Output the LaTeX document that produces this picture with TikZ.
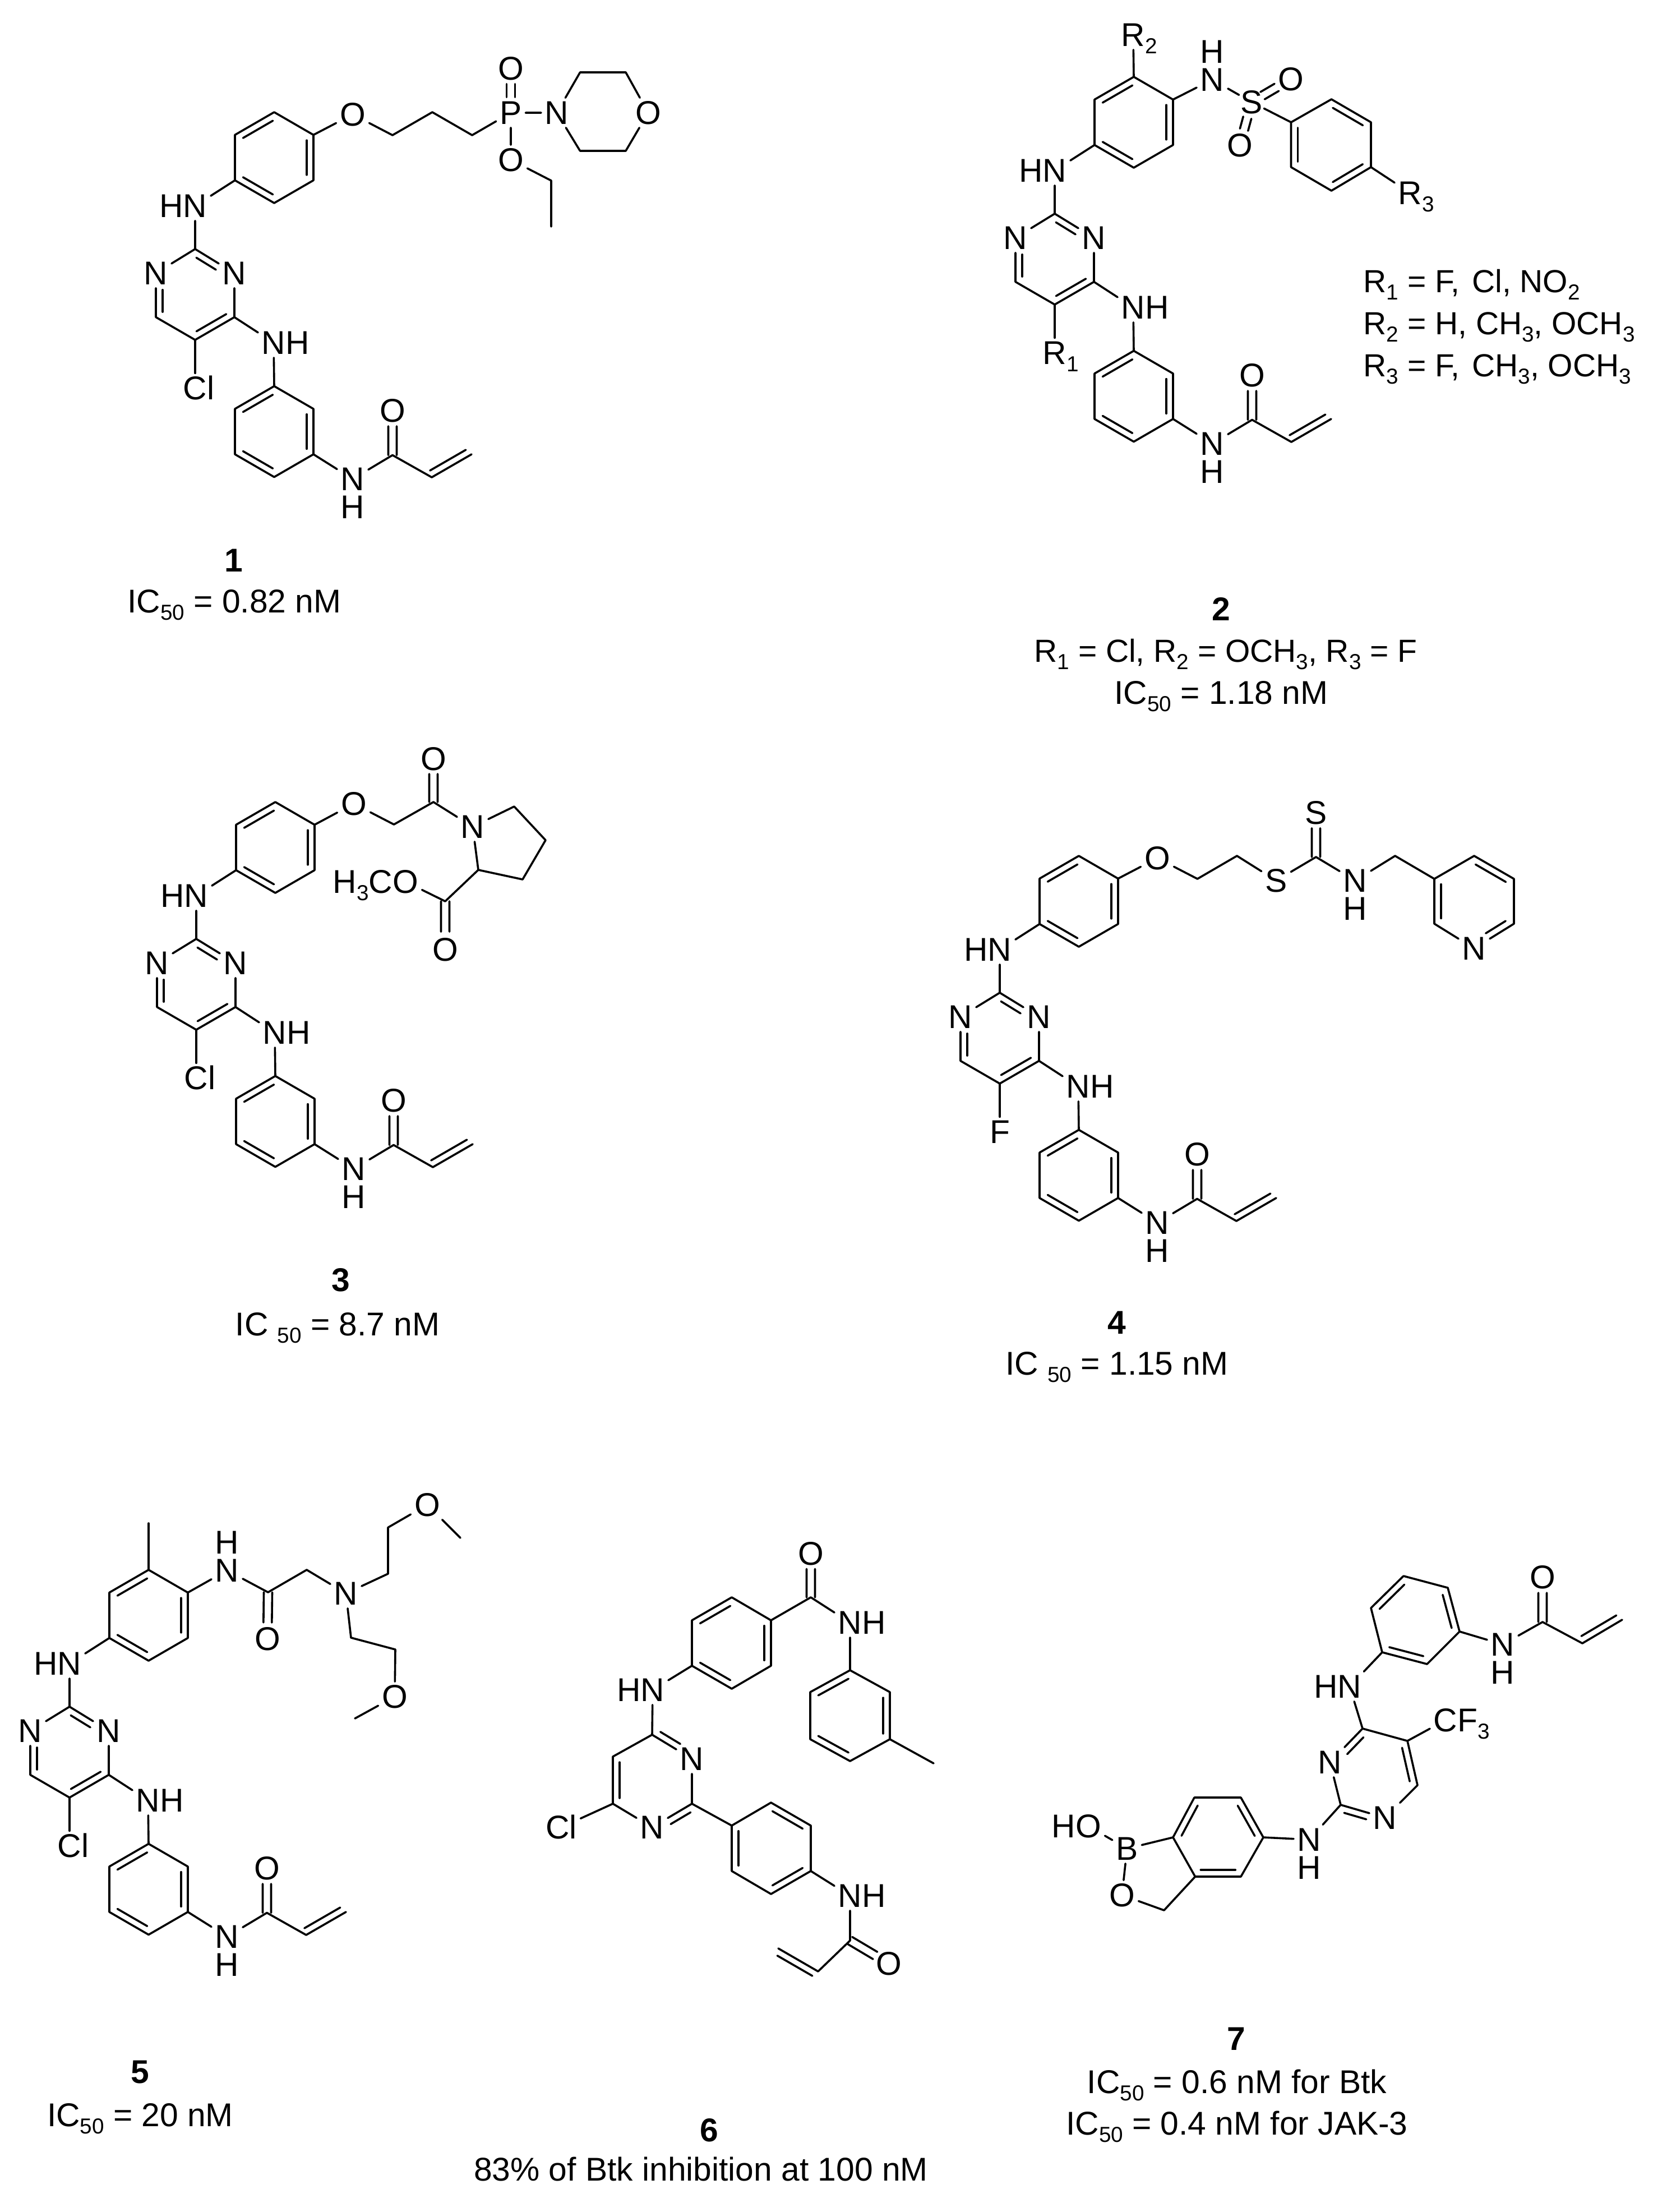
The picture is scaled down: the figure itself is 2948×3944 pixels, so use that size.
\documentclass[tikz,border=0pt]{standalone}
\usepackage{fontspec}
\setmainfont{Liberation Sans}
\usetikzlibrary{calc}
\newcommand{\sbs}[1]{\raisebox{-.23em}{\fontsize{11}{12}\selectfont #1}}
\tikzset{
    bond/.style={line width=.036cm, line cap=round, line join=round},
    atom/.style={font=\fontsize{16.7}{20}\selectfont, inner sep=.06cm, text height=.4cm, text depth=0pt},
    hatom/.style={atom, inner sep=0pt},
    captext/.style={font=\fontsize{16.7}{20}\selectfont, inner sep=0pt, text height=.4cm, text depth=0pt},
    rowtext/.style={captext, font=\fontsize{16.2}{20}\selectfont},
}
\newcommand{\innerbond}[4]{\draw[bond] ($(#1)!#3!(#2)!.12cm!90:(#2)$) -- ($(#2)!#4!(#1)!.12cm!-90:(#1)$);}
\newcommand{\ccin}[2]{\innerbond{#1}{#2}{.12}{.12}}
\newcommand{\twobond}[4]{
    \draw[bond] ($(#1)!#3!(#2)!.075cm!90:(#2)$) -- ($(#2)!#4!(#1)!.075cm!-90:(#1)$);
    \draw[bond] ($(#1)!#3!(#2)!.075cm!-90:(#2)$) -- ($(#2)!#4!(#1)!.075cm!90:(#1)$);
}
\newcommand{\corepart}[3]{
    \begin{scope}[shift={(#2)}, name prefix=#1-]
        \foreach \nm/\px/\py in {a1/489/200, a2/559/240.5, a3/559/321.5, a4/489/362, a5/419/321.5, a6/419/240.5,
            p2/348/444, p4/418/565.5, p5/348/606, p6/278/565.5,
            b1/489/688.5, b2/559/729, b3/559/810, b4/489/850.5, b5/419/810, b6/419/729,
            co/700/811.5, v1/770/851, v2/841/810}
            \coordinate (\nm) at (\px,\py);
        \node[atom] (nh) at (348,367) {\llap{H}N};
        \node[atom] (n1) at (278,487) {N};
        \node[atom] (n3) at (418,487) {N};
        \node[atom] (nb) at (488,611) {N\rlap{H}};
        \node[atom] (sub) at (348,692) {#3};
        \node[atom] (na) at (629,854) {N};
        \node[hatom] (ha) at (629,904) {H};
        \node[atom] (oa) at (700,732) {O};
        \draw[bond] (a1) -- (a2) -- (a3) -- (a4) -- (a5) -- (a6) -- (a1);
        \ccin{a1}{a6} \ccin{a5}{a4} \ccin{a3}{a2}
        \draw[bond] (a5) -- (nh) -- (p2) -- (n1) -- (p6) -- (p5) -- (p4) -- (n3) -- (p2);
        \innerbond{n3}{p2}{.38}{.12} \innerbond{n1}{p6}{.38}{.12} \ccin{p5}{p4}
        \draw[bond] (p5) -- (sub);
        \draw[bond] (p4) -- (nb) -- (b1) -- (b2) -- (b3) -- (b4) -- (b5) -- (b6) -- (b1);
        \ccin{b1}{b6} \ccin{b5}{b4} \ccin{b3}{b2}
        \draw[bond] (b3) -- (na) -- (co) -- (v1) -- (v2);
        \innerbond{v1}{v2}{.04}{.06}
        \twobond{co}{oa}{0}{.35}
    \end{scope}
}
\begin{document}
\begin{tikzpicture}[x=.01cm, y=-.01cm]
    \useasboundingbox (0,0) rectangle (2948,3944);

    % 1
    \corepart{m1}{0,0}{C\rlap{l}}
    \foreach \nm/\px/\py in {c1/700/241, c2/771/200, c3/842/241, r1/1034.5/129, r2/1116/129, r3/1116/269, r4/1034.5/269, e1/983/322, e2/983/404}
        \coordinate (\nm) at (\px,\py);
    \node[atom] (o1) at (629,204) {O};
    \node[atom] (p1) at (911,201) {P};
    \node[atom] (o2) at (911,122) {O};
    \node[atom] (n1) at (993,201) {N};
    \node[atom] (o3) at (1156,201) {O};
    \node[atom] (o4) at (911,285) {O};
    \draw[bond] (m1-a2) -- (o1) -- (c1) -- (c2) -- (c3) -- (p1) -- (n1) -- (r1) -- (r2) -- (o3) -- (r3) -- (r4) -- (n1);
    \draw[bond] (p1) -- (o4) -- (e1) -- (e2);
    \twobond{p1}{o2}{.35}{.35}
    \node[captext] (t1) at (417,999) {\textbf{1}};
    \node[captext] (ic1) at (418,1072) {IC\sbs{50} = 0.82 nM};

    % 2
    \corepart{m2}{1533,-63}{R\rlap{\sbs{1}}}
    \foreach \nm/\px/\py in {d1/2374.5/177, d2/2445/218, d3/2445/298, d4/2374.5/340, d5/2302.5/298, d6/2302.5/218}
        \coordinate (\nm) at (\px,\py);
    \node[atom] (rb) at (2021,62) {R\rlap{\sbs{2}}};
    \node[atom] (n2) at (2162,142) {N};
    \node[hatom] (h2) at (2162,92) {H};
    \node[atom, inner sep=.02cm] (s2) at (2232,182) {S};
    \node[atom] (o5) at (2302,141) {O};
    \node[atom] (o6) at (2211,259) {O};
    \node[atom] (rc) at (2515,344) {R\rlap{\sbs{3}}};
    \draw[bond] (m2-a1) -- (rb);
    \draw[bond] (m2-a2) -- (n2) -- (s2) -- (d6) -- (d1) -- (d2) -- (d3) -- (d4) -- (d5) -- (d6);
    \draw[bond] (d3) -- (rc);
    \twobond{s2}{o5}{.28}{.36}
    \twobond{s2}{o6}{.36}{.36}
    \ccin{d2}{d1} \ccin{d6}{d5} \ccin{d4}{d3}
    \node[rowtext, anchor=west] (l1) at (2431,501) {R\sbs{1} = F,\hspace{.38em}Cl, NO\sbs{2}};
    \node[rowtext, anchor=west] (l2) at (2431,576) {R\sbs{2} = H, CH\sbs{3}, OCH\sbs{3}};
    \node[rowtext, anchor=west] (l3) at (2431,651) {R\sbs{3} = F,\hspace{.38em}CH\sbs{3}, OCH\sbs{3}};
    \node[captext] (t2) at (2178,1086) {\textbf{2}};
    \node[rowtext] (rr2) at (2186,1160) {R\sbs{1} = Cl, R\sbs{2} = OCH\sbs{3}, R\sbs{3} = F};
    \node[captext] (ic2) at (2178,1235) {IC\sbs{50} = 1.18 nM};

    % 3
    \corepart{m3}{2,1230}{C\rlap{l}}
    \foreach \nm/\px/\py in {f1/702.5/1470, f2/773/1430, g1/917/1438, g2/973/1498, g3/932/1568, g4/853/1551, f3/794/1607}
        \coordinate (\nm) at (\px,\py);
    \node[atom] (o7) at (631,1433) {O};
    \node[atom] (o8) at (773,1353) {O};
    \node[atom] (n3) at (843,1474) {N};
    \node[atom] (o9) at (723,1572) {\llap{H\sbs{3}C}O};
    \node[atom] (o10) at (794,1693) {O};
    \draw[bond] (m3-a2) -- (o7) -- (f1) -- (f2) -- (n3) -- (g1) -- (g2) -- (g3) -- (g4) -- (n3);
    \draw[bond] (g4) -- (f3) -- (o9);
    \twobond{f2}{o8}{0}{.35}
    \twobond{f3}{o10}{0}{.37}
    \node[captext] (t3) at (608,2282) {\textbf{3}};
    \node[captext] (ic3) at (602,2361) {IC \sbs{50} = 8.7 nM};

    % 4
    \corepart{m4}{1435,1326}{F}
    \foreach \nm/\px/\py in {k1/2135.5/1567, k2/2206/1526, k3/2347/1528, k4/2488/1526, y1/2558/1567, y2/2629/1526, y3/2700/1567, y4/2700/1647, y6/2558/1647}
        \coordinate (\nm) at (\px,\py);
    \node[atom] (o11) at (2064,1530) {O};
    \node[atom] (s3) at (2276,1570) {S};
    \node[atom] (s4) at (2347,1449) {S};
    \node[atom] (n4) at (2417,1570) {N};
    \node[hatom] (h4) at (2417,1620) {H};
    \node[atom] (n5) at (2629,1691) {N};
    \draw[bond] (m4-a2) -- (o11) -- (k1) -- (k2) -- (s3) -- (k3) -- (n4) -- (k4) -- (y1) -- (y2) -- (y3) -- (y4) -- (n5) -- (y6) -- (y1);
    \twobond{k3}{s4}{0}{.35}
    \ccin{y3}{y2} \ccin{y1}{y6} \innerbond{n5}{y4}{.38}{.12}
    \node[captext] (t4) at (1992,2358) {\textbf{4}};
    \node[captext] (ic4) at (1992,2431) {IC \sbs{50} = 1.15 nM};

    % 5
    \corepart{m5}{-224,2599}{C\rlap{l}}
    \foreach \nm/\px/\py in {q0/265/2716, q1/478/2839, q2/547/2799, q3/692/2806, q4/692/2723.5, q5/821/2742, q6/626/2920, q7/705/2941, q8/633/3064}
        \coordinate (\nm) at (\px,\py);
    \node[atom] (n6) at (405,2800) {N};
    \node[hatom] (h6) at (405,2750) {H};
    \node[atom] (o12) at (477,2922) {O};
    \node[atom] (n7) at (617,2841) {N};
    \node[atom] (o13) at (762,2683) {O};
    \node[atom] (o14) at (704,3025) {O};
    \draw[bond] (m5-a1) -- (q0);
    \draw[bond] (m5-a2) -- (n6) -- (q1) -- (q2) -- (n7) -- (q3) -- (q4) -- (o13) -- (q5);
    \draw[bond] (n7) -- (q6) -- (q7) -- (o14) -- (q8);
    \twobond{q1}{o12}{0}{.35}
    \node[captext] (t5) at (250,3694) {\textbf{5}};
    \node[captext] (ic5) at (250,3771) {IC\sbs{50} = 20 nM};

    % 6
    \foreach \nm/\px/\py in {a1/1305/2848, a2/1375/2889, a3/1375/2970, a4/1305/3011, a5/1234/2970, a6/1234/2889,
        u1/1446/2848, b1/1516/2978, b2/1587/3017, b3/1587/3101, b4/1516/3140, b5/1445/3101, b6/1445/3017, me/1665/3144,
        c1/1163/3093, c3/1234/3216, c5/1093/3216, c6/1093/3132,
        d1/1375/3214, d2/1446/3255, d3/1446/3336, d4/1375/3377, d5/1305/3336, d6/1305/3255,
        w1/1516/3460, w2/1459/3515, w3/1388/3474}
        \coordinate (\nm) at (\px,\py);
    \node[atom] (o15) at (1446,2770) {O};
    \node[atom] (n8) at (1516,2893) {N\rlap{H}};
    \node[atom] (n9) at (1164,3013) {\llap{H}N};
    \node[atom] (n10) at (1234,3136) {N};
    \node[atom] (n11) at (1163,3258) {N};
    \node[atom] (cl6) at (1001,3258) {Cl};
    \node[atom] (n12) at (1516,3380) {N\rlap{H}};
    \node[atom] (o16) at (1585,3501) {O};
    \draw[bond] (a1) -- (a2) -- (a3) -- (a4) -- (a5) -- (a6) -- (a1);
    \ccin{a1}{a6} \ccin{a5}{a4} \ccin{a3}{a2}
    \draw[bond] (a2) -- (u1) -- (n8) -- (b1) -- (b2) -- (b3) -- (b4) -- (b5) -- (b6) -- (b1);
    \ccin{b1}{b6} \ccin{b5}{b4} \ccin{b3}{b2}
    \draw[bond] (b3) -- (me);
    \twobond{u1}{o15}{0}{.35}
    \draw[bond] (a5) -- (n9) -- (c1) -- (n10) -- (c3) -- (n11) -- (c5) -- (c6) -- (c1);
    \draw[bond] (c5) -- (cl6);
    \innerbond{c1}{n10}{.12}{.38} \innerbond{c3}{n11}{.12}{.38} \ccin{c6}{c5}
    \draw[bond] (c3) -- (d6) -- (d1) -- (d2) -- (d3) -- (d4) -- (d5) -- (d6);
    \ccin{d2}{d1} \ccin{d6}{d5} \ccin{d4}{d3}
    \draw[bond] (d3) -- (n12) -- (w1) -- (w2) -- (w3);
    \innerbond{w2}{w3}{.06}{.06}
    \twobond{w1}{o16}{0}{.35}
    \node[captext] (t6) at (1265,3798) {\textbf{6}};
    \node[captext] (tt6) at (1250,3868) {83\% of Btk inhibition at 100 nM};

    % 7
    \foreach \nm/\px/\py in {e1/2503/2810, e2/2582/2831, e3/2603/2909, e4/2545/2967, e5/2465/2946, e6/2445/2867,
        x1/2751/2892, x2/2822/2930, x3/2893/2888,
        z1/2430/3082, z2/2510/3104, z3/2528/3183, z4/2391/3218,
        j1/2253/3276, j2/2213/3205, j3/2130/3205, j4/2092/3276, j5/2131.5/3346, j6/2213/3346, j7/2076/3406}
        \coordinate (\nm) at (\px,\py);
    \node[atom] (n13) at (2680,2932) {N};
    \node[hatom] (h13) at (2680,2982) {H};
    \node[atom] (o17) at (2751,2812) {O};
    \node[atom] (n14) at (2407,3007) {\llap{H}N};
    \node[atom] (cf) at (2578,3067) {C\rlap{F\sbs{3}}};
    \node[atom] (n15) at (2372,3142) {N};
    \node[atom] (n16) at (2470,3241) {N};
    \node[atom] (n17) at (2335,3280) {N};
    \node[hatom] (h17) at (2335,3330) {H};
    \node[atom] (bo) at (2010,3296) {B};
    \node[atom] (o18) at (1941,3256) {\llap{H}O};
    \node[atom] (o19) at (2001,3379) {O};
    \draw[bond] (e1) -- (e2) -- (e3) -- (e4) -- (e5) -- (e6) -- (e1);
    \ccin{e1}{e6} \ccin{e5}{e4} \ccin{e3}{e2}
    \draw[bond] (e3) -- (n13) -- (x1) -- (x2) -- (x3);
    \innerbond{x2}{x3}{.06}{.06}
    \twobond{x1}{o17}{0}{.35}
    \draw[bond] (e5) -- (n14) -- (z1) -- (z2) -- (z3) -- (n16) -- (z4) -- (n15) -- (z1);
    \draw[bond] (z2) -- (cf);
    \innerbond{z1}{n15}{.12}{.38} \ccin{z3}{z2} \innerbond{n16}{z4}{.38}{.12}
    \draw[bond] (z4) -- (n17) -- (j1) -- (j2) -- (j3) -- (j4) -- (j5) -- (j6) -- (j1);
    \ccin{j1}{j2} \ccin{j3}{j4} \ccin{j5}{j6}
    \draw[bond] (j4) -- (bo) -- (o18);
    \draw[bond] (bo) -- (o19) -- (j7) -- (j5);
    \node[captext] (t7) at (2205,3635) {\textbf{7}};
    \node[captext] (ic7) at (2206,3712) {IC\sbs{50} = 0.6 nM for Btk};
    \node[captext] (jk7) at (2206,3786) {IC\sbs{50} = 0.4 nM for JAK-3};
\end{tikzpicture}
\end{document}
